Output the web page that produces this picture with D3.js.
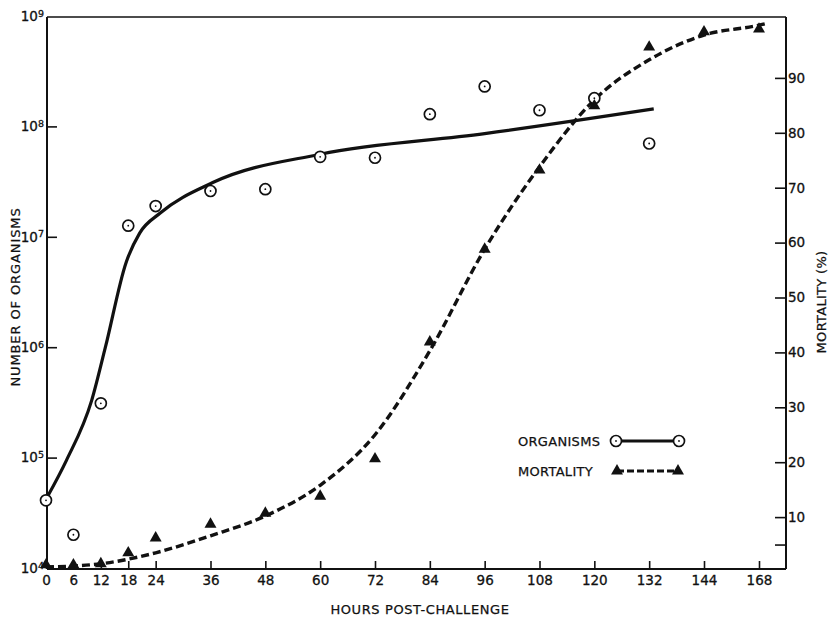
<!DOCTYPE html>
<html>
<head>
<meta charset="utf-8">
<script src="https://cdn.jsdelivr.net/npm/d3@7"></script>
<style>
  html, body { margin: 0; padding: 0; background: #ffffff; }
  svg { display: block; font-family: "DejaVu Sans", sans-serif; }
</style>
</head>
<body>
<svg id="chart"></svg>
<script>
(() => {
  const INK = "#111111";

  // hours on the x axis (168 sits one step after 144)
  const HOUR_TICKS = [0, 6, 12, 18, 24, 36, 48, 60, 72, 84, 96, 108, 120, 132, 144, 168];
  const ORG_EXPONENTS = [4, 5, 6, 7, 8, 9];
  const MORT_TICKS = [5, 10, 20, 30, 40, 50, 60, 70, 80, 90];

  // organisms, observed points
  const ORG_HOURS = [0, 6, 12, 18, 24, 36, 48, 60, 72, 84, 96, 108, 120, 132];
  const ORG_COUNTS = [4.1e4, 2.0e4, 3.1e5, 1.26e7, 1.9e7, 2.6e7, 2.7e7, 5.3e7, 5.2e7, 1.29e8, 2.3e8, 1.4e8, 1.8e8, 7.0e7];

  // organisms, drawn curve
  const ORG_CURVE_HOURS = [0, 4.5, 10, 13, 17.5, 20.5, 25, 36.5, 60, 96, 133];
  const ORG_CURVE_COUNTS = [4.2e4, 9.5e4, 3.3e5, 1.0e6, 5.8e6, 1.08e7, 1.64e7, 3.1e7, 5.6e7, 8.6e7, 1.44e8];

  // mortality, observed points
  const MORT_HOURS = [0, 6, 12, 18, 24, 36, 48, 60, 72, 84, 96, 108, 120, 132, 144, 168];
  const MORT_PCT = [1.3, 1.3, 1.5, 3.5, 6.2, 8.7, 10.7, 13.8, 20.6, 41.9, 58.8, 73.2, 84.9, 95.6, 98.4, 98.9];

  // mortality, drawn curve
  const MORT_CURVE_HOURS = [0, 12, 24, 36, 48, 60, 72, 84, 96, 108, 120, 132, 144, 168, 172];
  const MORT_CURVE_PCT = [0.9, 1.5, 3.5, 6.6, 10.2, 15.8, 25.0, 40.3, 58.8, 73.8, 86.0, 93.3, 97.8, 99.6, 100];

  const W = 829;
  const H = 617;
  const frame = { left: 47, right: 786, top: 17, bottom: 569 };

  const svg = d3.select("#chart").attr("width", W).attr("height", H);

  const x = d3.scaleLinear().domain([0, 144, 168]).range([46, 704, 759]);
  const yOrg = d3.scaleLog().domain([1e4, 1e9]).range([568, 16]);
  const yMort = d3.scaleLinear().domain([0, 100]).range([572, 23]);

  // frame
  const fr = svg.append("g").attr("stroke", INK).attr("stroke-width", 2).attr("fill", "none");
  fr.append("line").attr("x1", frame.left).attr("x2", frame.right).attr("y1", frame.top).attr("y2", frame.top).attr("stroke-width", 1.6);
  fr.append("line").attr("x1", frame.left).attr("x2", frame.left).attr("y1", frame.top).attr("y2", frame.bottom);
  fr.append("line").attr("x1", frame.right).attr("x2", frame.right).attr("y1", frame.top).attr("y2", frame.bottom);
  fr.append("line").attr("x1", frame.left).attr("x2", frame.right).attr("y1", frame.bottom).attr("y2", frame.bottom);

  function styleAxis(g) {
    g.attr("font-family", null);
    g.select(".domain").remove();
    g.selectAll(".tick line").attr("stroke", INK).attr("stroke-width", 1.6);
    g.selectAll(".tick text")
      .attr("fill", INK)
      .attr("font-size", 13.5)
      .attr("stroke", INK)
      .attr("stroke-width", 0.3);
  }

  // x axis
  svg.append("g")
    .attr("transform", `translate(0,${frame.bottom})`)
    .call(d3.axisBottom(x).tickValues(HOUR_TICKS).tickFormat(d3.format("d")).tickSizeInner(-8).tickSizeOuter(0).tickPadding(6))
    .call(styleAxis);

  // left log axis
  const leftAxis = svg.append("g")
    .attr("transform", `translate(${frame.left},0)`)
    .call(d3.axisLeft(yOrg).tickValues(ORG_EXPONENTS.map((e) => 10 ** e)).tickFormat(() => "10").tickSizeInner(-10).tickSizeOuter(0).tickPadding(3))
    .call(styleAxis);
  leftAxis.selectAll(".tick")
    .filter((d) => d === 1e4 || d === 1e9)
    .select("line").remove();
  leftAxis.selectAll(".tick text")
    .each(function addExp(d) {
      d3.select(this)
        .append("tspan")
        .attr("dy", "-0.45em")
        .attr("font-size", 9.5)
        .text(Math.round(Math.log10(d)));
    });

  // right mortality axis
  svg.append("g")
    .attr("transform", `translate(${frame.right},0)`)
    .call(d3.axisRight(yMort).tickValues(MORT_TICKS).tickFormat((d) => (d === 5 ? "" : d)).tickSizeInner(-11).tickSizeOuter(0).tickPadding(2))
    .call(styleAxis);

  // axis titles
  const titles = svg.append("g")
    .attr("fill", INK)
    .attr("stroke", INK)
    .attr("stroke-width", 0.25)
    .attr("font-size", 13)
    .attr("text-anchor", "middle");

  titles.append("text")
    .attr("x", 420).attr("y", 614)
    .attr("letter-spacing", 0.6)
    .text("HOURS POST-CHALLENGE");

  titles.append("text")
    .attr("transform", "translate(20,297) rotate(-90)")
    .attr("letter-spacing", 0.9)
    .text("NUMBER OF ORGANISMS");

  titles.append("text")
    .attr("transform", "translate(826,302) rotate(-90)")
    .attr("letter-spacing", 0.3)
    .text("MORTALITY (%)");

  // curves
  const orgLine = d3.line()
    .x((d) => x(d[0]))
    .y((d) => yOrg(d[1]))
    .curve(d3.curveMonotoneX);
  const mortLine = d3.line()
    .x((d) => x(d[0]))
    .y((d) => yMort(d[1]))
    .curve(d3.curveMonotoneX);

  svg.append("path")
    .datum(ORG_CURVE_HOURS.map((h, i) => [h, ORG_CURVE_COUNTS[i]]))
    .attr("d", orgLine)
    .attr("fill", "none")
    .attr("stroke", INK)
    .attr("stroke-width", 3.2);

  svg.append("path")
    .datum(MORT_CURVE_HOURS.map((h, i) => [h, MORT_CURVE_PCT[i]]))
    .attr("d", mortLine)
    .attr("fill", "none")
    .attr("stroke", INK)
    .attr("stroke-width", 3.4)
    .attr("stroke-dasharray", "8,4");

  // markers
  function drawCircleMarker(sel) {
    sel.append("circle").attr("r", 5.5).attr("fill", "#ffffff").attr("stroke", INK).attr("stroke-width", 1.7);
    sel.append("circle").attr("r", 0.9).attr("fill", INK);
  }
  const triangle = d3.symbol().type(d3.symbolTriangle).size(62);

  svg.append("g")
    .selectAll("g")
    .data(ORG_HOURS.map((h, i) => [h, ORG_COUNTS[i]]))
    .join("g")
    .attr("transform", (d) => `translate(${x(d[0])},${yOrg(d[1])})`)
    .call(drawCircleMarker);

  svg.append("g")
    .selectAll("path")
    .data(MORT_HOURS.map((h, i) => [h, MORT_PCT[i]]))
    .join("path")
    .attr("d", triangle)
    .attr("fill", INK)
    .attr("transform", (d) => `translate(${x(d[0])},${yMort(d[1])})`);

  // legend
  const legend = svg.append("g")
    .attr("fill", INK)
    .attr("font-size", 13);
  legend.append("text").attr("x", 518).attr("y", 446).attr("letter-spacing", 0.3)
    .attr("stroke", INK).attr("stroke-width", 0.25).text("ORGANISMS");
  legend.append("text").attr("x", 518).attr("y", 476).attr("letter-spacing", 0.3)
    .attr("stroke", INK).attr("stroke-width", 0.25).text("MORTALITY");

  legend.append("line")
    .attr("x1", 616).attr("x2", 679).attr("y1", 441).attr("y2", 441)
    .attr("stroke", INK).attr("stroke-width", 2.8);
  legend.selectAll("g.org-key")
    .data([616, 679])
    .join("g")
    .attr("class", "org-key")
    .attr("transform", (d) => `translate(${d},441)`)
    .call(drawCircleMarker);

  legend.append("line")
    .attr("x1", 617).attr("x2", 678).attr("y1", 471).attr("y2", 471)
    .attr("stroke", INK).attr("stroke-width", 3)
    .attr("stroke-dasharray", "7,3");
  legend.selectAll("path.mort-key")
    .data([617, 678])
    .join("path")
    .attr("class", "mort-key")
    .attr("d", triangle)
    .attr("transform", (d) => `translate(${d},471)`);
})();
</script>
</body>
</html>
